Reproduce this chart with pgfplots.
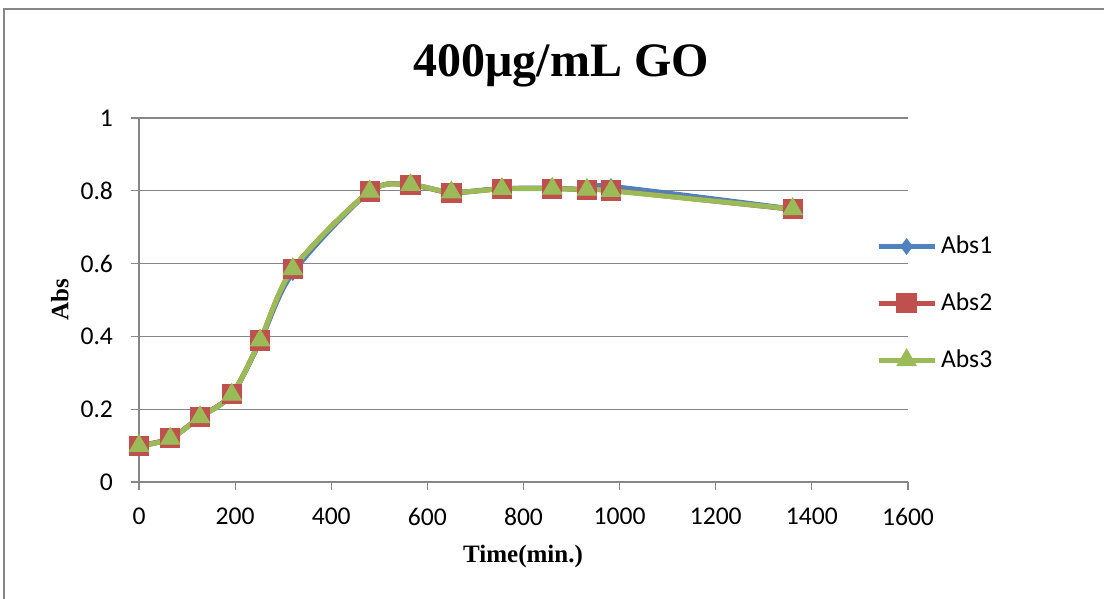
\documentclass[border=0pt]{standalone}
\usepackage{pgfplots}
\pgfplotsset{compat=1.18}
\usepackage{fontspec}
\setmainfont{Carlito}
\newfontfamily\tnr{Liberation Serif}
\definecolor{c1}{HTML}{4F81BD}
\definecolor{c2}{HTML}{C0504D}
\definecolor{c3}{HTML}{9BBB59}
\definecolor{gridc}{HTML}{868686}
\begin{document}
\begin{tikzpicture}
\useasboundingbox (-69.5bp,-58.5bp) rectangle (482.5bp,241bp);
\draw[gridc, line width=0.6bp] (-67.5bp,-80bp) rectangle (500bp,236.5bp);
\begin{axis}[
  scale only axis, width=384.5bp, height=182bp,
  xmin=0, xmax=1600, ymin=0, ymax=1,
  xtick={0,200,...,1600}, ytick={0,0.2,0.4,0.6,0.8,1},
  axis x line*=bottom, axis y line*=left,
  axis line style={gridc, line width=0.6bp},
  ymajorgrids, grid style={gridc, line width=0.6bp},
  tick align=outside, major tick length=4bp,
  tick style={gridc, line width=0.6bp},
  /pgf/number format/assume math mode=true,
  ticklabel style={font=\fontsize{12.8bp}{14bp}\selectfont},
  yticklabel style={/pgf/number format/fixed, xshift=-5.5bp},
  xticklabel style={/pgf/number format/1000 sep={}, yshift=-5.5bp},
  title={400μg/mL GO},
  title style={font=\tnr\bfseries\fontsize{24bp}{28bp}\selectfont, at={(axis description cs:0.549,1.11)}, anchor=center},
  xlabel={Time(min.)},
  xlabel style={font=\tnr\bfseries\fontsize{12.5bp}{14bp}\selectfont, at={(axis description cs:0.4994,-0.206)}, anchor=center},
  ylabel={Abs},
  ylabel style={font=\tnr\bfseries\fontsize{12.5bp}{14bp}\selectfont, at={(axis description cs:-0.103,0.5)}, anchor=center},
  legend style={draw=none, fill=none, at={(axis description cs:0.958,0.491)}, anchor=west,
    font=\fontsize{12.8bp}{14bp}\selectfont, row sep=14bp, inner sep=0pt},
  legend cell align=left,
  legend image code/.code={\draw[mark repeat=2,mark phase=2,#1] plot coordinates {(0bp,0bp) (14bp,0bp) (28bp,0bp)};},
]
\addplot[c1, line width=2.5bp, smooth, mark=diamond*, mark size=3.8bp, mark options={solid, fill=c1, draw=c1, line width=0.5bp}] coordinates {
(0,0.099) (65,0.119) (127,0.178) (193,0.240) (252,0.386) (320,0.575) (480,0.798) (565,0.816) (650,0.796) (755,0.806) (860,0.807) (932,0.804) (982,0.812) (1360,0.750)};
\addlegendentry{Abs1}
\addplot[c2, line width=2.5bp, smooth, mark=square*, mark size=4.8bp, mark options={solid, fill=c2, draw=c2, line width=0.5bp}] coordinates {
(0,0.100) (65,0.120) (127,0.179) (193,0.241) (252,0.389) (320,0.585) (480,0.798) (565,0.816) (650,0.795) (755,0.806) (860,0.806) (932,0.803) (982,0.801) (1360,0.749)};
\addlegendentry{Abs2}
\addplot[c3, line width=2.5bp, smooth, mark=triangle*, mark size=5.5bp, mark options={solid, fill=c3, draw=c3, line width=0.5bp}] coordinates {
(0,0.099) (65,0.119) (127,0.178) (193,0.240) (252,0.389) (320,0.585) (480,0.798) (565,0.816) (650,0.796) (755,0.805) (860,0.806) (932,0.803) (982,0.800) (1360,0.750)};
\addlegendentry{Abs3}
\end{axis}
\end{tikzpicture}
\end{document}
